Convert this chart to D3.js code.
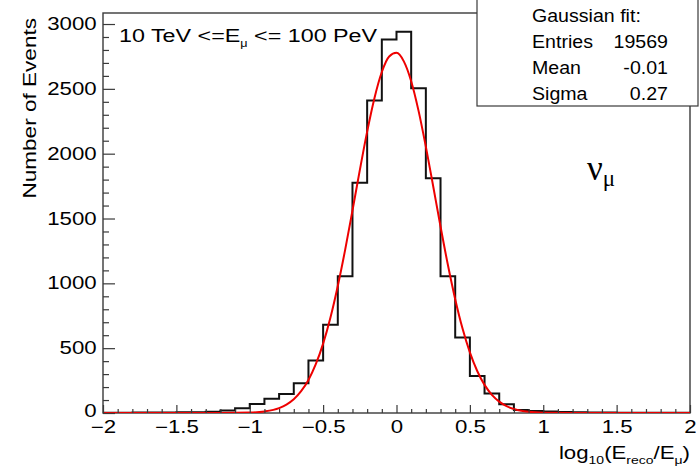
<!DOCTYPE html>
<html>
<head>
<meta charset="utf-8">
<script src="https://cdn.jsdelivr.net/npm/d3@7"></script>
<style>
  html, body { margin: 0; padding: 0; background: #fff; }
  svg { display: block; }
  text { font-family: "Liberation Sans", Arial, Helvetica, sans-serif; fill: #000; }
</style>
</head>
<body>
<svg id="chart" width="699" height="470"></svg>
<script>
// ---------- data ----------
const binEdgesStart = -2.0;
const binWidth = 0.1;
// histogram counts, 40 bins of 0.1 from -2 to 2
const counts = [2, 2, 3, 3, 4, 5, 6, 10, 20, 36,
                69, 110, 147, 229, 405, 680, 1055, 1775, 2410, 2880,
                2940, 2505, 1810, 1055, 582, 285, 150, 68, 23, 16,
                12, 8, 5, 4, 3, 2, 2, 1, 1, 1];
// Gaussian fit curve points
const fitX = [-2.0, -1.5, -1.2, -1.0, -0.9, -0.8, -0.75, -0.7, -0.65, -0.6, -0.55, -0.5, -0.45, -0.4, -0.35, -0.3, -0.25, -0.2, -0.15, -0.1, -0.05, 0.0,
              0.05, 0.1, 0.15, 0.2, 0.25, 0.3, 0.35, 0.4, 0.45, 0.5, 0.55, 0.6, 0.65, 0.7, 0.75, 0.8, 0.85, 0.9, 1.0, 1.2, 1.5, 2.0];
const fitY = [0, 0, 0, 3, 12, 38, 65, 106, 168, 255, 376, 535, 737, 980, 1258, 1562, 1873, 2170, 2430, 2630, 2750, 2778,
              2712, 2559, 2332, 2054, 1749, 1438, 1143, 878, 651, 467, 324, 217, 140, 88, 53, 31, 17, 9, 2, 0, 0, 0];
const xTickValues = [-2, -1.5, -1, -0.5, 0, 0.5, 1, 1.5, 2];
const yTickValues = [0, 500, 1000, 1500, 2000, 2500, 3000];
const statsLabels = ["Entries", "Mean", "Sigma"];
const statsValues = ["19569", "-0.01", "0.27"];
const statsTitle = "Gaussian fit:";

// ---------- layout ----------
const L = 103, R = 690, T = 13, B = 413;
const SX = 1.27; // wide glyphs of the original font
const svg = d3.select("#chart");

const x = d3.scaleLinear().domain([-2, 2]).range([L, R]);
const y = d3.scaleLinear().domain([0, 3085]).range([B, T]);

// frame
svg.append("rect").attr("x", L).attr("y", T).attr("width", R - L).attr("height", B - T)
  .attr("fill", "none").attr("stroke", "#3a3a3a").attr("stroke-width", 1.4);

// clip
svg.append("clipPath").attr("id", "clip").append("rect")
  .attr("x", L).attr("y", T).attr("width", R - L).attr("height", B - T);

// histogram step line
const histPts = counts.map((c, i) => [binEdgesStart + i * binWidth, c]);
histPts.push([binEdgesStart + counts.length * binWidth, counts[counts.length - 1]]);
svg.append("path")
  .attr("clip-path", "url(#clip)")
  .attr("d", d3.line().x(d => x(d[0])).y(d => y(d[1])).curve(d3.curveStepAfter)(histPts))
  .attr("fill", "none").attr("stroke", "#111").attr("stroke-width", 2);

// fit curve
const fitPts = fitX.map((v, i) => [v, fitY[i]]);
svg.append("path")
  .attr("clip-path", "url(#clip)")
  .attr("d", d3.line().x(d => x(d[0])).y(d => y(d[1])).curve(d3.curveMonotoneX)(fitPts))
  .attr("fill", "none").attr("stroke", "#ee0000").attr("stroke-width", 2);

// ---------- axes ----------
function styleAxis(g) {
  g.select(".domain").remove();
  g.selectAll(".tick line").attr("stroke", "#3a3a3a").attr("stroke-width", 1.2);
}
const minorX = d3.range(-20, 21).map(v => v / 10).filter(v => Math.abs(v * 2 - Math.round(v * 2)) > 1e-6);
const minorY = d3.range(0, 31).map(v => v * 100).filter(v => v % 500 !== 0);

// x axis minor
svg.append("g").attr("transform", `translate(0,${B})`)
  .call(d3.axisBottom(x).tickValues(minorX).tickSize(-4).tickFormat(""))
  .call(styleAxis);
// x axis major
const gx = svg.append("g").attr("transform", `translate(0,${B})`)
  .call(d3.axisBottom(x).tickValues(xTickValues).tickSize(-8).tickPadding(7.5).tickFormat(d3.format("")))
  .call(styleAxis);
gx.selectAll("text").attr("font-size", 17.5).attr("fill", "#000")
  .attr("transform", `scale(${SX},1)`);

// y axis minor
svg.append("g").attr("transform", `translate(${L},0)`)
  .call(d3.axisLeft(y).tickValues(minorY).tickSize(-6).tickFormat(""))
  .call(styleAxis);
// y axis major
const gy = svg.append("g").attr("transform", `translate(${L},0)`)
  .call(d3.axisLeft(y).tickValues(yTickValues).tickSize(-12).tickPadding(5).tickFormat(d3.format("d")))
  .call(styleAxis);
gy.selectAll("text").attr("font-size", 17.5).attr("fill", "#000")
  .attr("transform", `scale(${SX},1)`);
// keep the "0" label clear of the x labels
gy.selectAll(".tick").filter(d => d === 0).select("text").attr("dy", "0.2em");

// axis titles
const xt = svg.append("text").attr("transform", `translate(${R},459) scale(${SX},1)`)
  .attr("text-anchor", "end").attr("font-size", 17.5);
xt.append("tspan").text("log");
xt.append("tspan").attr("font-size", 11).attr("dy", 5).text("10");
xt.append("tspan").attr("dy", -5).text("(E");
xt.append("tspan").attr("font-size", 11).attr("dy", 5).text("reco");
xt.append("tspan").attr("dy", -5).text("/E");
xt.append("tspan").attr("font-size", 11).attr("dy", 5).text("μ");
xt.append("tspan").attr("dy", -5).text(")");

svg.append("text").attr("transform", `translate(36,18) rotate(-90) scale(1.29,1)`)
  .attr("text-anchor", "end").attr("font-size", 17.5).text("Number of Events");

// title label
const tl = svg.append("text").attr("transform", `translate(119,42) scale(1.26,1)`)
  .attr("font-size", 18.5);
tl.append("tspan").text("10 TeV <=E");
tl.append("tspan").attr("font-size", 10).attr("dy", 5).text("μ");
tl.append("tspan").attr("dy", -5).text(" <= 100 PeV");

// nu_mu
const nu = svg.append("text").attr("x", 587).attr("y", 180)
  .style("font-family", "'Liberation Serif', 'Times New Roman', serif").attr("font-size", 35);
nu.append("tspan").text("ν");
nu.append("tspan").attr("font-size", 23).attr("dy", 6).text("μ");

// ---------- stats box ----------
svg.append("rect").attr("x", 477).attr("y", -1).attr("width", 221).attr("height", 107)
  .attr("fill", "#fff").attr("stroke", "#3a3a3a").attr("stroke-width", 1.2);
const rowY = [22, 48, 74, 100];
svg.append("text").attr("transform", `translate(532,${rowY[0]}) scale(1.12,1)`)
  .attr("font-size", 17.5).text(statsTitle);
statsLabels.forEach((lab, i) => {
  svg.append("text").attr("transform", `translate(532,${rowY[i + 1]}) scale(1.12,1)`)
    .attr("font-size", 17.5).text(lab);
  svg.append("text").attr("transform", `translate(668,${rowY[i + 1]}) scale(1.12,1)`)
    .attr("font-size", 17.5).attr("text-anchor", "end").text(statsValues[i]);
});
</script>
</body>
</html>
